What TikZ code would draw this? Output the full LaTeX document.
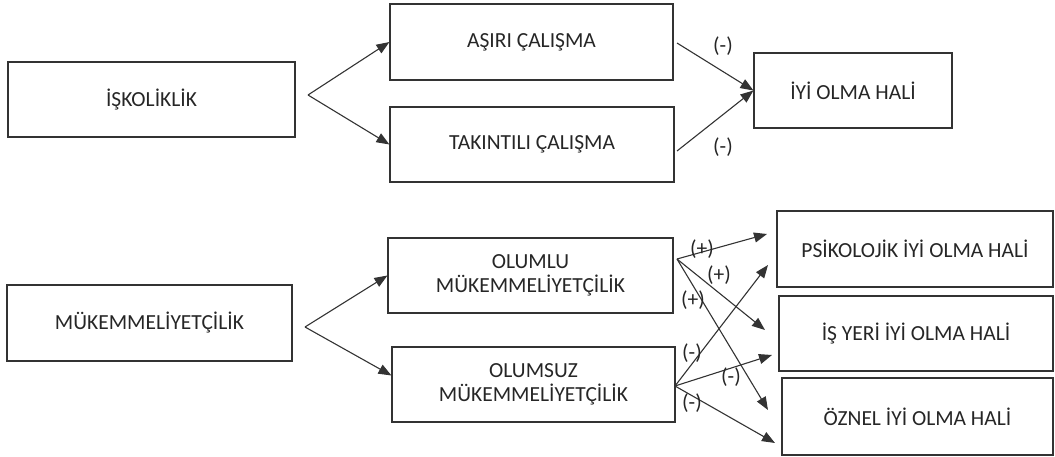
\documentclass[tikz,border=0pt]{standalone}
\usepackage{fontspec}
\setmainfont{Carlito}
\usetikzlibrary{arrows.meta, positioning}

\tikzset{
    kutu/.style={draw=black!80, line width=1.1pt, minimum height=75pt, align=center, inner sep=2pt, text=black!85},
    ok/.style={draw=black!80, line width=1.1pt, -{Triangle[length=13pt, width=10pt]}},
    etiket/.style={inner sep=0pt, text=black!85}
}

\begin{document}
\begin{tikzpicture}[x=1pt, y=-1pt, font=\fontsize{21.5}{24}\selectfont]
    \useasboundingbox (0,0) rectangle (1055,457);

    % ust kisim
    \node[kutu, minimum width=287pt] (isk) at (151.5,99.5) {İŞKOLİKLİK};
    \node[kutu, minimum width=283pt, minimum height=76pt] (asiri) at (531.5,42) {AŞIRI ÇALIŞMA};
    \node[kutu, minimum width=284pt] (takin) at (532,144.5) {TAKINTILI ÇALIŞMA};
    \node[kutu, minimum width=198pt] (iyi) at (853,90.5) {İYİ OLMA HALİ};

    \coordinate (b1) at (308,95);
    \draw[ok] (b1) -- (asiri.west);
    \draw[ok] (b1) -- (takin.west);

    \coordinate (s1) at (677,43); \coordinate (s2) at (677,151);
    \draw[ok] (s1) -- (iyi.west);
    \draw[ok] (s2) -- (iyi.west);
    \node[etiket] (e1) at (723,46) {(-)};
    \node[etiket] (e2) at (723,147) {(-)};

    % alt kisim
    \node[kutu, minimum width=285pt, minimum height=76pt] (muk) at (149.5,323) {MÜKEMMELİYETÇİLİK};
    \node[kutu, minimum width=285pt] (olumlu) at (530.5,275.5) {OLUMLU\\MÜKEMMELİYETÇİLİK};
    \node[kutu, minimum width=283pt] (olumsuz) at (533.5,384.5) {OLUMSUZ\\MÜKEMMELİYETÇİLİK};
    \node[kutu, minimum width=276pt, minimum height=76pt] (psi) at (915,249) {PSİKOLOJİK İYİ OLMA HALİ};
    \node[kutu, minimum width=274pt] (isyeri) at (916,333.5) {İŞ YERİ İYİ OLMA HALİ};
    \node[kutu, minimum width=271pt, minimum height=77pt] (oznel) at (917.5,416.5) {ÖZNEL İYİ OLMA HALİ};

    \coordinate (b2) at (305,327);
    \draw[ok] (b2) -- (olumlu.west);
    \draw[ok] (b2) -- ([yshift=9pt]olumsuz.west);

    \coordinate (s3) at (677,259); \coordinate (s4) at (675,386);
    \coordinate (t1) at (767,234); \coordinate (t2) at (768,265);
    \coordinate (t3) at (765,330); \coordinate (t4) at (772,355);
    \coordinate (t5) at (768,410); \coordinate (t6) at (775,443);
    \draw[ok] (s3) -- (t1);
    \draw[ok] (s3) -- (t3);
    \draw[ok] (s3) -- (t5);
    \draw[ok] (s4) -- (t2);
    \draw[ok] (s4) -- (t4);
    \draw[ok] (s4) -- (t6);

    \node[etiket] (e3) at (702,249) {(+)};
    \node[etiket] (e4) at (719,275) {(+)};
    \node[etiket] (e5) at (693,300) {(+)};
    \node[etiket] (e6) at (692,353) {(-)};
    \node[etiket] (e7) at (731,377) {(-)};
    \node[etiket] (e8) at (692,403) {(-)};
\end{tikzpicture}
\end{document}
